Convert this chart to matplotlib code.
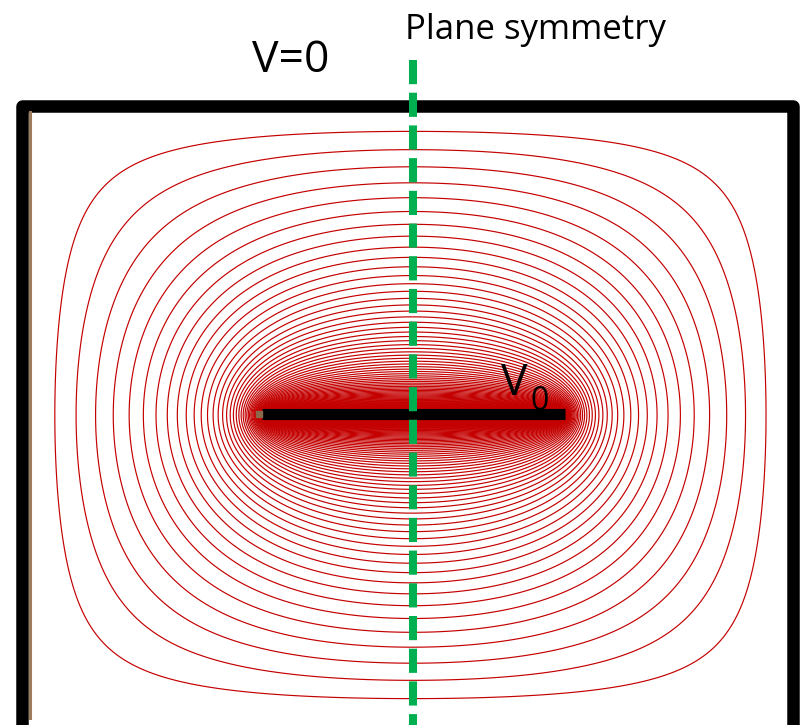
import numpy as np
import matplotlib.pyplot as plt

# box interior (pixels) and plate
box_x = [32, 788]
box_y = [112, 718]
plate_x = [262, 565]
plate_y = 415
V0 = 1.0
step = 3
# equipotential levels: 1 - r**k
ratio = 0.95
n_levels = 300

labels = ["V=0", "Plane symmetry", "V", "0"]

# grid
xs = np.arange(box_x[0], box_x[1] + 1, step)
ys = np.arange(box_y[0], box_y[1] + 1, step)
X, Y = np.meshgrid(xs, ys)
V = np.zeros(X.shape)
fixed = np.zeros(X.shape, dtype=bool)
fixed[0, :] = fixed[-1, :] = fixed[:, 0] = fixed[:, -1] = True
j = np.argmin(np.abs(ys - plate_y))
plate = (Y == ys[j]) & (X >= plate_x[0]) & (X <= plate_x[1])
fixed |= plate
V[plate] = V0

# red-black SOR
M, N = V.shape
rho = 0.5*(np.cos(np.pi/M) + np.cos(np.pi/N))
w = 2/(1 + np.sqrt(1 - rho**2))
ii, jj = np.meshgrid(np.arange(1, N-1), np.arange(1, M-1))
free = ~fixed[1:-1, 1:-1]
red = ((ii + jj) % 2 == 0) & free
black = ((ii + jj) % 2 == 1) & free
for it in range(3000):
    for m in (red, black):
        avg = 0.25*(V[:-2, 1:-1] + V[2:, 1:-1] + V[1:-1, :-2] + V[1:-1, 2:])
        inner = V[1:-1, 1:-1]
        V[1:-1, 1:-1] = np.where(m, inner + w*(avg - inner), inner)

levels = V0*(1 - ratio**np.arange(1, n_levels + 1))

fig = plt.figure(figsize=(8.04, 7.25), dpi=100)
ax = fig.add_axes([0, 0, 1, 1])
ax.set_xlim(0, 804)
ax.set_ylim(725, 0)
ax.axis('off')

ax.contour(X, Y, V, levels=levels, colors='#c40000', linewidths=0.85)

# grounded box
ax.plot([22, 22, 793, 793, 22], [760, 106, 106, 760, 760], color='black',
        lw=9, solid_joinstyle='round', solid_capstyle='round')
ax.plot([30.5, 30.5], [112, 718], color='#9c7c5c', lw=2.2)
# plate
ax.plot(plate_x, [414, 414], color='black', lw=8, solid_capstyle='butt')
ax.plot([259], [414], 's', color='#8a6a4a', ms=4)
# symmetry plane
ax.plot([413, 413], [60, 725], color='#00b050', lw=5.8,
        linestyle=(0, (3, 1.06)), dash_capstyle='butt')

ax.text(252, 72, labels[0], fontsize=32, family='Open Sans', va='baseline')
ax.text(405, 39, labels[1], fontsize=25, family='Open Sans', va='baseline')
ax.text(501, 395, labels[2], fontsize=32, family='Open Sans', va='baseline')
ax.text(530, 410, labels[3], fontsize=23, family='Open Sans', va='baseline')

fig.savefig('out.png', dpi=100)
